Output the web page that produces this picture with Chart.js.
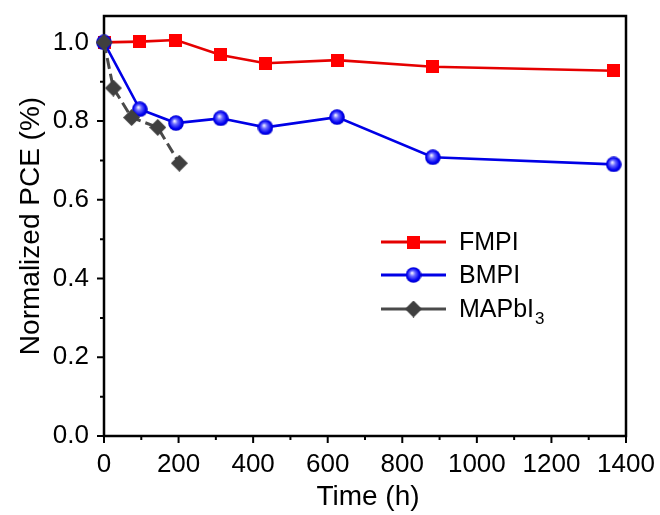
<!DOCTYPE html>
<html>
<head>
<meta charset="utf-8">
<script src="https://cdn.jsdelivr.net/npm/chart.js@4.4.1/dist/chart.umd.min.js"></script>
<style>
  html, body { margin: 0; padding: 0; background: #fff; }
  #wrap { width: 660px; height: 515px; }
</style>
</head>
<body>
<div id="wrap"><canvas id="pceChart" width="660" height="515"></canvas></div>
<script>
// stability data (time in hours, PCE normalized to initial value)
const fmpiHours = [0, 96, 193, 313, 433, 625, 882, 1367];
const fmpiPce = [1.0, 1.002, 1.006, 0.968, 0.947, 0.955, 0.938, 0.928];

const bmpiHours = [0, 96, 193, 313, 433, 625, 882, 1367];
const bmpiPce = [1.0, 0.830, 0.795, 0.807, 0.784, 0.810, 0.708, 0.690];

const mapbiHours = [0, 25, 74, 144, 202];
const mapbiPce = [1.0, 0.884, 0.809, 0.784, 0.693];

const xTickValues = [0, 200, 400, 600, 800, 1000, 1200, 1400];
const yTickValues = [0.0, 0.2, 0.4, 0.6, 0.8, 1.0];

const FONT = '"Liberation Sans", Arial, sans-serif';

// marker images
function squareMarker() {
    const c = document.createElement('canvas');
    c.width = 13; c.height = 13;
    const g = c.getContext('2d');
    g.fillStyle = '#ff0000';
    g.fillRect(0, 0, 13, 13);
    return c;
}

function ballMarker() {
    const c = document.createElement('canvas');
    c.width = 16; c.height = 16;
    const g = c.getContext('2d');
    const grad = g.createRadialGradient(6.5, 6, 0.5, 8, 8, 8);
    grad.addColorStop(0, '#e8e8ff');
    grad.addColorStop(0.3, '#6a6aff');
    grad.addColorStop(0.75, '#0000f0');
    grad.addColorStop(1, '#0000c8');
    g.fillStyle = grad;
    g.beginPath();
    g.arc(8, 8, 7.8, 0, Math.PI * 2);
    g.fill();
    return c;
}

function diamondMarker() {
    const c = document.createElement('canvas');
    c.width = 17; c.height = 17;
    const g = c.getContext('2d');
    g.fillStyle = '#3f3f3f';
    g.beginPath();
    g.moveTo(8.5, 0); g.lineTo(17, 8.5); g.lineTo(8.5, 17); g.lineTo(0, 8.5);
    g.closePath();
    g.fill();
    return c;
}

const sqImg = squareMarker();
const ballImg = ballMarker();
const diaImg = diamondMarker();

function toPoints(xs, ys) {
    return xs.map((x, i) => ({ x: x, y: ys[i] }));
}

// frame, major/minor ticks, axis titles and legend
const framePlugin = {
    id: 'frame',
    beforeDatasetsDraw(chart) {
        const { ctx, chartArea: a, scales } = chart;
        ctx.save();
        ctx.strokeStyle = '#000';
        ctx.lineWidth = 2.5;
        ctx.strokeRect(a.left, a.top, a.right - a.left, a.bottom - a.top);

        ctx.lineWidth = 2;
        ctx.beginPath();
        for (let v = 0; v <= 1400; v += 100) {
            const px = scales.x.getPixelForValue(v);
            const len = v % 200 === 0 ? 7 : 4;
            ctx.moveTo(px, a.bottom);
            ctx.lineTo(px, a.bottom + len);
        }
        for (let k = 0; k <= 10; k++) {
            const py = scales.y.getPixelForValue(k / 10);
            const len = k % 2 === 0 ? 7 : 4;
            ctx.moveTo(a.left, py);
            ctx.lineTo(a.left - len, py);
        }
        ctx.stroke();

        // axis titles
        ctx.fillStyle = '#000';
        ctx.font = '28px ' + FONT;
        ctx.textAlign = 'center';
        ctx.textBaseline = 'middle';
        ctx.fillText('Time (h)', (a.left + a.right) / 2 + 3, 497);
        ctx.translate(31, (a.top + a.bottom) / 2);
        ctx.rotate(-Math.PI / 2);
        ctx.fillText('Normalized PCE (%)', 0, 0);
        ctx.restore();
    },
    afterDraw(chart) {
        const ctx = chart.ctx;
        const rows = [
            { label: 'FMPI', color: '#e50000', img: sqImg, y: 242 },
            { label: 'BMPI', color: '#0000e6', img: ballImg, y: 275 },
            { label: 'MAPbI', sub: '3', color: '#4a4a4a', img: diaImg, y: 309 }
        ];
        ctx.save();
        rows.forEach(r => {
            ctx.strokeStyle = r.color;
            ctx.lineWidth = 3;
            ctx.beginPath();
            ctx.moveTo(381, r.y);
            ctx.lineTo(446, r.y);
            ctx.stroke();
            ctx.drawImage(r.img, 413.5 - r.img.width / 2, r.y - r.img.height / 2);
            ctx.fillStyle = '#000';
            ctx.font = '25px ' + FONT;
            ctx.textAlign = 'left';
            ctx.textBaseline = 'middle';
            ctx.fillText(r.label, 459, r.y + 1);
            if (r.sub) {
                const w = ctx.measureText(r.label).width;
                ctx.font = '17px ' + FONT;
                ctx.fillText(r.sub, 459 + w + 1, r.y + 10);
            }
        });
        ctx.restore();
    }
};

const ctx = document.getElementById('pceChart').getContext('2d');
const pceChart = new Chart(ctx, {
    type: 'line',
    data: {
        datasets: [
            {
                label: 'FMPI',
                data: toPoints(fmpiHours, fmpiPce),
                borderColor: '#e50000',
                borderWidth: 2.6,
                pointStyle: sqImg,
                order: 2
            },
            {
                label: 'BMPI',
                data: toPoints(bmpiHours, bmpiPce),
                borderColor: '#0000e6',
                borderWidth: 2.6,
                pointStyle: ballImg,
                order: 1
            },
            {
                label: 'MAPbI3',
                data: toPoints(mapbiHours, mapbiPce),
                borderColor: '#4a4a4a',
                borderWidth: 3,
                borderDash: [11, 5],
                pointStyle: diaImg,
                order: 0
            }
        ]
    },
    options: {
        responsive: false,
        animation: false,
        clip: false,
        devicePixelRatio: 1,
        layout: { padding: { left: 0, top: 16, right: 34, bottom: 0 } },
        elements: { line: { tension: 0 } },
        plugins: {
            legend: { display: false },
            tooltip: { enabled: false }
        },
        scales: {
            x: {
                type: 'linear',
                min: 0,
                max: 1400,
                grid: { display: false, drawTicks: false },
                border: { display: false },
                afterBuildTicks: s => { s.ticks = xTickValues.map(v => ({ value: v })); },
                afterFit: s => { s.height = 79; s.paddingLeft = 0; s.paddingRight = 0; },
                ticks: {
                    color: '#000',
                    padding: 13,
                    maxRotation: 0,
                    autoSkip: false,
                    font: { family: FONT, size: 26 },
                    callback: v => String(v)
                }
            },
            y: {
                min: 0,
                max: 1.067,
                grid: { display: false, drawTicks: false },
                border: { display: false },
                afterBuildTicks: s => { s.ticks = yTickValues.map(v => ({ value: v })); },
                afterFit: s => { s.width = 104; s.paddingTop = 0; s.paddingBottom = 0; },
                ticks: {
                    color: '#000',
                    padding: 15,
                    font: { family: FONT, size: 26 },
                    callback: v => Number(v).toFixed(1)
                }
            }
        }
    },
    plugins: [framePlugin]
});
</script>
</body>
</html>
